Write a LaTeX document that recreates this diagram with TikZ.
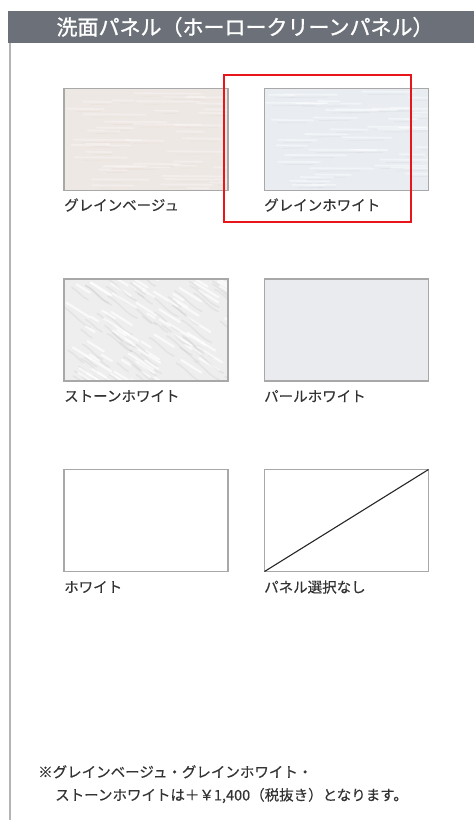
\documentclass[tikz,border=0pt]{standalone}
\usepackage{fontspec}
\setmainfont{Noto Sans CJK JP}[FakeBold=0.3]
\newfontfamily\titlefont[FakeBold=1.2]{Noto Sans CJK JP}
\definecolor{hdr}{HTML}{6C7179}
\definecolor{frameline}{HTML}{B4B4B4}
\definecolor{swborder}{HTML}{A8A8A8}
\definecolor{labelc}{HTML}{333333}
\definecolor{beige}{HTML}{EEE8E5}
\definecolor{gwhite}{HTML}{E9EDF1}
\definecolor{stone}{HTML}{EEEEEE}
\definecolor{pearl}{HTML}{E9EBEE}
\definecolor{redbox}{HTML}{E8161B}
\tikzset{
  swatch/.style={draw=swborder, line width=1.4pt, minimum width=164pt, minimum height=102pt, inner sep=0pt, outer sep=0pt},
  lbl/.style={anchor=west, inner sep=0pt, text=labelc, font=\fontsize{14.5}{16}\selectfont},
}
\begin{document}
\begin{tikzpicture}[x=1pt,y=-1pt]
\useasboundingbox (0,0) rectangle (474,820);
\fill[white] (0,0) rectangle (474,820);
% header bar
\node[fill=hdr, minimum width=466pt, minimum height=32pt, inner sep=0pt, anchor=north west] (hdrbar) at (8,11) {};
\node[text=white, inner sep=0pt, font=\titlefont\fontsize{21}{24}\selectfont] (title) at (245,27) {洗面パネル（ホーロークリーンパネル）};
% left frame line
\draw[frameline, line width=2.2pt] (hdrbar.south west) ++(1.6,0) coordinate (fl) -- (fl |- 0,820);
% swatches
\node[swatch, fill=beige] (gb) at (146,139.5) {};
\node[swatch, fill=gwhite] (gw) at (346.5,139.5) {};
\node[swatch, fill=stone] (sw) at (146,330) {};
\node[swatch, fill=pearl] (pw) at (346.5,330) {};
\node[swatch, fill=white] (wh) at (146,520.5) {};
\node[swatch, fill=white] (none) at (346.5,520.5) {};
% textures
\pgfmathsetseed{7}
\begin{scope}
\clip (gb.south west) rectangle (gb.north east);
\foreach \i in {1,...,40}{
  \pgfmathsetmacro{\xa}{66+rnd*150}
  \pgfmathsetmacro{\ya}{90+rnd*98}
  \pgfmathsetmacro{\ln}{20+rnd*50}
  \draw[white, opacity=0.3, line width=1.6pt, line cap=round] (\xa,\ya) -- ++(\ln,0.5);
  \draw[brown!30!beige, opacity=0.18, line width=0.8pt, line cap=round] (\xa+8,\ya+3) -- ++(\ln*0.7,-0.3);
}
\end{scope}
\begin{scope}
\clip (gw.south west) rectangle (gw.north east);
\foreach \i in {1,...,40}{
  \pgfmathsetmacro{\xa}{266+rnd*150}
  \pgfmathsetmacro{\ya}{90+rnd*98}
  \pgfmathsetmacro{\ln}{20+rnd*50}
  \draw[white, opacity=0.45, line width=1.6pt, line cap=round] (\xa,\ya) -- ++(\ln,0.4);
  \draw[gray!30!gwhite, opacity=0.2, line width=0.8pt, line cap=round] (\xa+6,\ya+3) -- ++(\ln*0.7,-0.3);
}
\end{scope}
\begin{scope}
\clip (sw.south west) rectangle (sw.north east);
\foreach \i in {1,...,70}{
  \pgfmathsetmacro{\xa}{60+rnd*170}
  \pgfmathsetmacro{\ya}{275+rnd*110}
  \pgfmathsetmacro{\ln}{8+rnd*24}
  \draw[gray!60, opacity=0.18, line width=1.5pt, line cap=round] (\xa,\ya) .. controls (\xa+\ln*0.4,\ya+\ln*0.2) and (\xa+\ln*0.6,\ya+\ln*0.6) .. (\xa+\ln,\ya+\ln*0.75);
  \draw[white, opacity=0.65, line width=2.2pt, line cap=round] (\xa+5,\ya-3) -- ++(\ln*0.8,\ln*0.5);
}
\end{scope}
% redraw borders over textures
\foreach \n in {gb,gw,sw}{
  \draw[swborder, line width=1.4pt] (\n.south west) rectangle (\n.north east);
}
% diagonal for no panel
\draw[black!85, line width=1.1pt] (none.south west) -- (none.north east);
% labels
\node[lbl] (lgb) at (64,205) {グレインベージュ};
\node[lbl] (lgw) at (264,205) {グレインホワイト};
\node[lbl] (lsw) at (64,396) {ストーンホワイト};
\node[lbl] (lpw) at (264,396) {パールホワイト};
\node[lbl] (lwh) at (64,587) {ホワイト};
\node[lbl] (lnone) at (264,587) {パネル選択なし};
% red highlight
\draw[redbox, line width=1.5pt] (224,75) rectangle (411,222);
% footnote
\node[anchor=north west, inner sep=0pt, align=left, text=labelc, font=\fontsize{14.5}{23}\selectfont] (note) at (38,765) {※グレインベージュ・グレインホワイト・\\\hspace*{17pt}ストーンホワイトは＋￥1,400（税抜き）となります。};
\end{tikzpicture}
\end{document}
